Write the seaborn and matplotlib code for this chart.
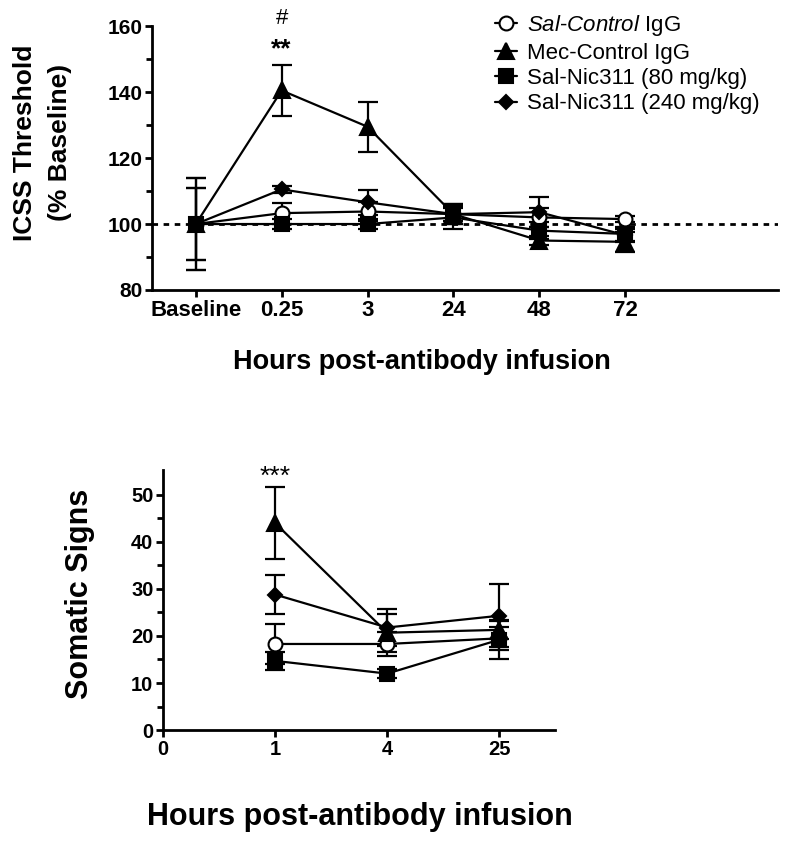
import numpy as np
import pandas as pd
import matplotlib
matplotlib.use("Agg")
import matplotlib.pyplot as plt
import seaborn as sns

sns.set_theme(style="ticks")
plt.rcParams['font.family'] = ['Liberation Sans', 'DejaVu Sans']
plt.rcParams['mathtext.fontset'] = 'custom'
plt.rcParams['mathtext.it'] = 'Liberation Sans:italic'
plt.rcParams['mathtext.rm'] = 'Liberation Sans'
plt.rcParams['text.color'] = 'black'
plt.rcParams['axes.labelcolor'] = 'black'

# ---------- Data: ICSS ----------
icss_times = ["Baseline", "0.25", "3", "24", "48", "72"]
series_names = ["Sal-Control IgG", "Mec-Control IgG", "Sal-Nic311 (80 mg/kg)", "Sal-Nic311 (240 mg/kg)"]
legend_labels = [r"$\it{Sal}$-$\it{Control}$ IgG", "Mec-Control IgG",
                 "Sal-Nic311 (80 mg/kg)", "Sal-Nic311 (240 mg/kg)"]
icss_sal_ctrl = [100, 103.3, 103.8, 103.0, 102.0, 101.5]
icss_mec_ctrl = [100, 140.5, 129.5, 103.0, 95.0, 94.6]
icss_nic80 = [100, 100.0, 100.0, 102.0, 98.0, 97.0]
icss_nic240 = [100, 110.5, 106.6, 103.0, 103.6, 96.6]
icss_sal_ctrl_err = [11, 3.2, 3.0, 3.0, 3.0, 1.0]
icss_mec_ctrl_err = [14, 7.8, 7.6, 3.0, 1.5, 3.0]
icss_nic80_err = [14, 1.5, 1.5, 3.5, 2.5, 2.0]
icss_nic240_err = [11, 1.0, 3.8, 2.0, 4.6, 2.0]

# ---------- Data: Somatic signs ----------
som_times = ["1", "4", "25"]
som_sal_ctrl = [18.3, 18.3, 19.5]
som_mec_ctrl = [44.0, 20.7, 21.3]
som_nic80 = [14.7, 12.0, 19.2]
som_nic240 = [28.8, 21.8, 24.3]
som_sal_ctrl_err = [4.2, 2.5, 2.5]
som_mec_ctrl_err = [7.6, 4.0, 2.0]
som_nic80_err = [2.0, 1.0, 4.0]
som_nic240_err = [4.2, 4.0, 6.7]

icss_vals = [icss_sal_ctrl, icss_mec_ctrl, icss_nic80, icss_nic240]
icss_errs = [icss_sal_ctrl_err, icss_mec_ctrl_err, icss_nic80_err, icss_nic240_err]
som_vals = [som_sal_ctrl, som_mec_ctrl, som_nic80, som_nic240]
som_errs = [som_sal_ctrl_err, som_mec_ctrl_err, som_nic80_err, som_nic240_err]

styles = [dict(marker='o', markerfacecolor='white', markersize=10),
          dict(marker='^', markerfacecolor='black', markersize=11),
          dict(marker='s', markerfacecolor='black', markersize=10),
          dict(marker='D', markerfacecolor='black', markersize=7.5)]

fig = plt.figure(figsize=(8.0, 8.43), dpi=100)
ax1 = fig.add_axes([0.19, 0.656, 0.7825, 0.313])
ax2 = fig.add_axes([0.204, 0.134, 0.49, 0.3085])

def draw(ax, times, vals, errs, offset, with_label):
    pos = np.arange(len(times)) + offset
    for i, (v, e) in enumerate(zip(vals, errs)):
        df = pd.DataFrame({"x": pos, "y": v})
        ax.errorbar(pos, v, yerr=e, fmt='none', ecolor='black', elinewidth=1.6,
                    capsize=7.5, capthick=1.6, zorder=2)
        sns.lineplot(data=df, x="x", y="y", ax=ax, color='black', linewidth=1.6,
                     markeredgecolor='black', markeredgewidth=1.5,
                     label=legend_labels[i] if with_label else None,
                     legend=False, zorder=3, **styles[i])

draw(ax1, icss_times, icss_vals, icss_errs, 0, True)
ax1.axhline(100, color='black', linestyle=(0, (2, 2)), linewidth=2, zorder=1)
ax1.set_xlim(-0.51, 6.78)
ax1.set_ylim(80, 160)
ax1.set_xticks(np.arange(len(icss_times)))
ax1.set_xticklabels(icss_times)
ax1.set_yticks([80, 100, 120, 140, 160])
ax1.set_yticks([90, 110, 130, 150], minor=True)
ax1.set_xlabel("")
ax1.set_ylabel("")
handles, labels = ax1.get_legend_handles_labels()
ax1.legend(handles, labels, loc='upper left', bbox_to_anchor=(0.534, 1.083), frameon=False,
           fontsize=16, handlelength=1.0, handletextpad=0.45, labelspacing=0.2,
           borderaxespad=0, labelcolor='black')
ax1.text(1, 162.2, "#", ha='center', va='center', fontsize=16, color='black')
ax1.text(1, 153.0, "**", ha='center', va='center', fontsize=19, fontweight='bold', color='black')
fig.text(0.053, 0.831, "ICSS Threshold\n(% Baseline)", rotation=90, ha='center',
         va='center', fontsize=19, fontweight='bold', linespacing=1.6, color='black')
fig.text(0.527, 1 - 369 / 843, "Hours post-antibody infusion", ha='center', va='baseline',
         fontsize=19.5, fontweight='bold', color='black')

draw(ax2, som_times, som_vals, som_errs, 1, False)
ax2.set_xlim(0, 3.5)
ax2.set_ylim(0, 55.3)
ax2.set_xticks([0, 1, 2, 3])
ax2.set_xticklabels(["0"] + som_times)
ax2.set_yticks([0, 10, 20, 30, 40, 50])
ax2.set_yticks([5, 15, 25, 35, 45], minor=True)
ax2.set_xlabel("")
ax2.set_ylabel("")
ax2.text(1, 53.9, "***", ha='center', va='center', fontsize=19, color='black')
fig.text(0.1, 0.295, "Somatic Signs", rotation=90, ha='center', va='center',
         fontsize=22, fontweight='bold', color='black')
fig.text(0.45, 1 - 825 / 843, "Hours post-antibody infusion", ha='center', va='baseline',
         fontsize=22, fontweight='bold', color='black')

for ax, xs, ys in ((ax1, 16, 15), (ax2, 14.5, 14.5)):
    sns.despine(ax=ax)
    for s in ('left', 'bottom'):
        ax.spines[s].set_linewidth(2)
        ax.spines[s].set_color('black')
    ax.tick_params(axis='both', which='major', length=5, width=2,
                   colors='black', pad=2)
    ax.tick_params(axis='x', which='major', labelsize=xs)
    ax.tick_params(axis='y', which='major', labelsize=ys)
    ax.tick_params(axis='y', which='minor', length=4, width=2, colors='black')
    for lab in ax.get_xticklabels() + ax.get_yticklabels():
        lab.set_fontweight('bold')

fig.savefig("out.png", dpi=100)
